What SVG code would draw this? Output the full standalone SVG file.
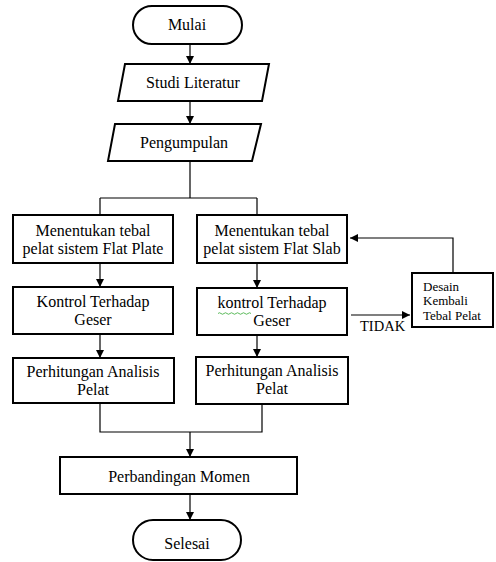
<svg xmlns="http://www.w3.org/2000/svg" width="496" height="562" viewBox="0 0 496 562" font-family="'Liberation Serif', 'Times New Roman', serif">
<defs>
<marker id="ah" viewBox="0 0 10 10" refX="10" refY="5" markerWidth="8" markerHeight="8" markerUnits="userSpaceOnUse" orient="auto">
<path d="M0,0 L10,5 L0,10 z" fill="#000"/>
</marker>
<style>
.n{fill:#fff;stroke:#000;stroke-width:2}
.c{fill:none;stroke:#000;stroke-width:1.2}
text{font-family:'Liberation Serif','Times New Roman',serif}
.t{font-size:16px;fill:#000;text-anchor:middle}
.s{font-size:13px;fill:#000}
</style>
</defs>
<rect width="496" height="562" fill="#fff"/>
<g id="connectors">
<path class="c" d="M190,44 V64" marker-end="url(#ah)"/>
<path class="c" d="M190,101 V124" marker-end="url(#ah)"/>
<path class="c" d="M190,161 V198 M100,198 H257 M100,198 V215 M257,198 V215"/>
<path class="c" d="M100,263 V287" marker-end="url(#ah)"/>
<path class="c" d="M257,263 V288" marker-end="url(#ah)"/>
<path class="c" d="M100,334 V358" marker-end="url(#ah)"/>
<path class="c" d="M257,335 V357" marker-end="url(#ah)"/>
<path class="c" d="M351,315 H410" marker-end="url(#ah)"/>
<path class="c" d="M453,273 V238 H350" marker-end="url(#ah)"/>
<path class="c" d="M100,403 V432 H262 V404 M190,432 V457" marker-end="url(#ah)"/>
<path class="c" d="M190,494 V520" marker-end="url(#ah)"/>
<text x="360" y="331" class="s" style="font-size:14.5px">TIDAK</text>
</g>
<g id="mulai">
<rect class="n" x="133" y="6" width="109" height="38" rx="19"/>
<text class="t" x="187" y="30">Mulai</text>
</g>
<g id="studi">
<polygon class="n" points="125,64 269,64 262,101 118,101"/>
<text class="t" x="193" y="88">Studi Literatur</text>
</g>
<g id="pengumpulan">
<polygon class="n" points="115,124 261,124 252,161 108,161"/>
<text class="t" x="184" y="148">Pengumpulan</text>
</g>
<g id="tebal-fp">
<rect class="n" x="13" y="215" width="160" height="48"/>
<text class="t" x="93" y="236">Menentukan tebal</text>
<text class="t" x="93" y="254">pelat sistem  Flat Plate</text>
</g>
<g id="tebal-fs">
<rect class="n" x="197" y="215" width="150" height="48"/>
<text class="t" x="272" y="236">Menentukan tebal</text>
<text class="t" x="272" y="254">pelat sistem Flat Slab</text>
</g>
<g id="kontrol-fp">
<rect class="n" x="13" y="287" width="160" height="47"/>
<text class="t" x="93" y="307">Kontrol Terhadap</text>
<text class="t" x="93" y="325">Geser</text>
</g>
<g id="kontrol-fs">
<rect class="n" x="197" y="288" width="150" height="47"/>
<text class="t" x="272" y="308">kontrol Terhadap</text>
<text class="t" x="272" y="326">Geser</text>
<path d="M218,313.5 q1.5,-1.5 3,0 t3,0 t3,0 t3,0 t3,0 t3,0 t3,0 t3,0 t3,0 t3,0 t3,0" fill="none" stroke="#3a3" stroke-width="0.8"/>
</g>
<g id="analisis-fp">
<rect class="n" x="13" y="358" width="161" height="45"/>
<text class="t" x="93" y="377">Perhitungan Analisis</text>
<text class="t" x="93" y="395">Pelat</text>
</g>
<g id="analisis-fs">
<rect class="n" x="196" y="357" width="152" height="47"/>
<text class="t" x="272" y="376">Perhitungan Analisis</text>
<text class="t" x="272" y="394">Pelat</text>
</g>
<g id="desain">
<rect class="n" x="412" y="273" width="81" height="54"/>
<text class="s" x="423" y="291">Desain</text>
<text class="s" x="423" y="305">Kembali</text>
<text class="s" x="423" y="320">Tebal Pelat</text>
</g>
<g id="perbandingan">
<rect class="n" x="60" y="457" width="237" height="37"/>
<text class="t" x="179" y="482">Perbandingan Momen</text>
</g>
<g id="selesai">
<rect class="n" x="133" y="520" width="108" height="40" rx="20"/>
<text class="t" x="187" y="549">Selesai</text>
</g>
</svg>
